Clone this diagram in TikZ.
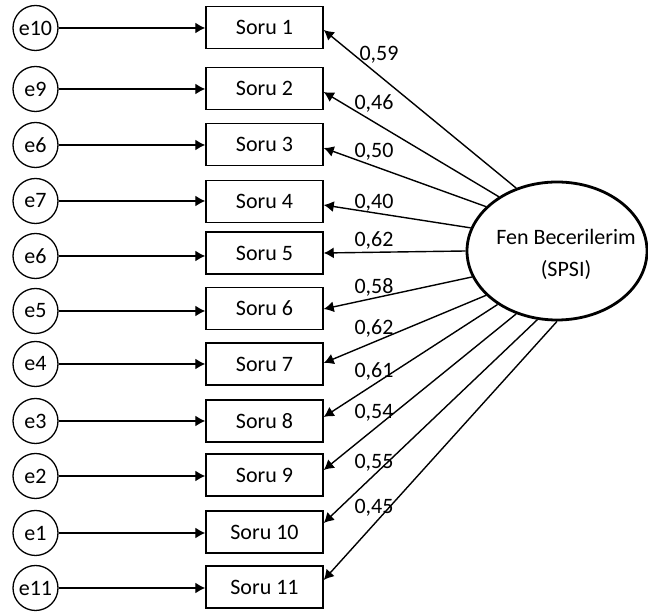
\documentclass[tikz,border=0pt]{standalone}
\usepackage{fontspec}
\setmainfont{Carlito}
\usetikzlibrary{arrows.meta,calc,shapes.geometric}
\begin{document}
\begin{tikzpicture}[x=0.5pt,y=-0.5pt,
  font=\fontsize{11}{13}\selectfont,
  item/.style={draw, line width=0.75pt, minimum width=58.5pt, minimum height=21pt, inner sep=0pt},
  err/.style={draw, circle, line width=0.65pt, minimum size=22.5pt, inner sep=0pt},
  latent/.style={draw, ellipse, line width=1.4pt, minimum width=90pt, minimum height=69pt, inner sep=0pt},
  link/.style={line width=0.7pt, -{Latex[length=5pt,width=5.5pt]}},
  coef/.style={inner sep=0pt}]
  \useasboundingbox (0,0) rectangle (648,613);

  % latent factor
  \node[latent] (F) at (557,251) {};
  \node[align=center, font=\fontsize{11}{16}\selectfont] (Flabel) at (566,254) {Fen Becerilerim\\(SPSI)};

  % items, error terms, loadings
  \foreach \i/\by/\ey/\en/\ang/\off/\lx/\ly/\lv in {
      1/27.5/28/e10/123/2.5/379/55/{0,59},
      2/88.5/89/e9/137/3.5/374/103/{0,46},
      3/144.5/145/e6/148/3.5/374/152/{0,50},
      4/201.5/201/e7/165/3.5/374/203/{0,40},
      5/253/256/e6/180/0/374/240/{0,62},
      6/308.5/311/e5/197/0.5/374/287/{0,58},
      7/364/364/e4/212/-1/374/328/{0,62},
      8/421/421/e3/222/-4/374/371/{0,61},
      9/475/476/e2/237/-5/374/413/{0,54},
      10/532/533/e1/254/-9/374/463/{0,55},
      11/587/588/e11/270/-7/374/508/{0,45}} {
    \node[item] (s\i) at (264.5,\by) {Soru \i};
    \node[err] (c\i) at (35.5,\ey) {\en};
    \draw[link] (c\i.east) -- (c\i.east -| s\i.west);
    \draw[link] (F.\ang) -- ($(s\i.east)+(0,\off)$);
    \node[coef] (l\i) at (\lx,\ly) {\lv};
  }
\end{tikzpicture}
\end{document}
